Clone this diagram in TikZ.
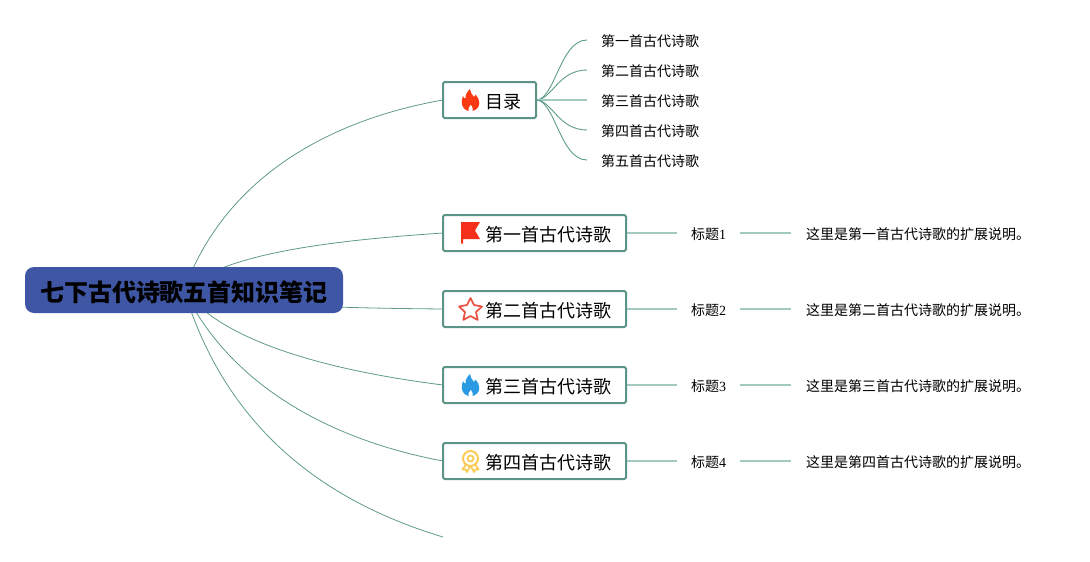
\documentclass[tikz,border=0pt]{standalone}
\usepackage{fontspec}
\setmainfont{Liberation Serif}
\newfontfamily\cjk{Noto Sans CJK SC}
\usetikzlibrary{backgrounds}
\definecolor{boxline}{HTML}{5B9486}
\definecolor{edgedark}{HTML}{5F9A8B}
\definecolor{edgelight}{HTML}{A3CABF}
\definecolor{rootfill}{HTML}{3F56A4}
\definecolor{flamered}{HTML}{FB3A12}
\definecolor{flagred}{HTML}{F5301A}
\definecolor{starred}{HTML}{E9503F}
\definecolor{flameblue}{HTML}{2A9BE3}
\definecolor{medalgold}{HTML}{FBCB55}
\tikzset{
  rootnode/.style={draw=none,fill=rootfill,rounded corners=9pt,minimum width=318pt,minimum height=46pt,inner sep=0pt,text height=23.5pt,text depth=0.5pt,font=\cjk\bfseries\fontsize{24}{26}\selectfont},
  topicnode/.style={draw=boxline,line width=2pt,outer sep=0pt,fill=white,rounded corners=1.5pt,minimum height=36pt,inner xsep=15pt,inner ysep=0pt,anchor=west,text height=18.4pt,text depth=1pt,font=\cjk\fontsize{18}{20}\selectfont},
  leafnode/.style={inner xsep=14pt,inner ysep=0pt,anchor=west,text height=13.6pt,text depth=1pt,font=\cjk\fontsize{14}{16}\selectfont},
  link/.style={draw=edgedark,line width=0.8pt},
  sublink/.style={draw=edgedark,line width=0.9pt},
  straightlink/.style={draw=edgelight,line width=1.4pt},
  flame/.pic={
    \fill[pic actions] (-2,11) .. controls (-8,9.5) and (-9.5,4) .. (-8.5,-0.5)
       .. controls (-8.2,-2) and (-7.8,-3) .. (-7.5,-4)
       .. controls (-7,-2.5) and (-6,-1.5) .. (-5,-1.5)
       .. controls (-5.5,-5) and (-3,-8.5) .. (-0.5,-11)
       .. controls (-0.5,-8) and (1.5,-5.5) .. (3.5,-3)
       .. controls (4.5,-3.5) and (4.8,-4.5) .. (5,-5.5)
       .. controls (7.5,-3) and (8.8,0) .. (8.8,3)
       .. controls (8.8,7) and (6,10) .. (2,11)
       .. controls (3,9) and (2.2,7) .. (0.3,4.5)
       .. controls (-1.2,6.5) and (-3,9) .. (-2,11) -- cycle;
  }
}
\begin{document}
\begin{tikzpicture}[x=1pt,y=-1pt]
\useasboundingbox (0,0) rectangle (1090,562);
% nodes
\node[rootnode] (root) at (184,290) {七下古代诗歌五首知识笔记};
\node[topicnode] (toc) at (443,100) {\hspace*{27pt}目录};
\node[topicnode] (p1) at (443,233) {\hspace*{27pt}第一首古代诗歌};
\node[topicnode] (p2) at (443,309) {\hspace*{27pt}第二首古代诗歌};
\node[topicnode] (p3) at (443,385) {\hspace*{27pt}第三首古代诗歌};
\node[topicnode] (p4) at (443,461) {\hspace*{27pt}第四首古代诗歌};
\coordinate (free) at (443,537);
\node[leafnode] (t1) at (587,40) {第一首古代诗歌};
\node[leafnode] (t2) at (587,70) {第二首古代诗歌};
\node[leafnode] (t3) at (587,100) {第三首古代诗歌};
\node[leafnode] (t4) at (587,130) {第四首古代诗歌};
\node[leafnode] (t5) at (587,160) {第五首古代诗歌};
\foreach \i/\y in {1/233,2/309,3/385,4/461}{
  \node[leafnode] (h\i) at (677,\y) {{\cjk 标题}\rmfamily\i};
}
\node[leafnode,inner xsep=15pt] (d1) at (791,233) {这里是第一首古代诗歌的扩展说明。};
\node[leafnode,inner xsep=15pt] (d2) at (791,309) {这里是第二首古代诗歌的扩展说明。};
\node[leafnode,inner xsep=15pt] (d3) at (791,385) {这里是第三首古代诗歌的扩展说明。};
\node[leafnode,inner xsep=15pt] (d4) at (791,461) {这里是第四首古代诗歌的扩展说明。};
% connectors
\begin{scope}[on background layer]
\draw[link] (root.center) .. controls (228,170) and (340,118) .. (toc.west);
\draw[link] (root.center) .. controls (225,252) and (340,240) .. (p1.west);
\draw[link] (root.center) .. controls (240,306) and (340,308) .. (p2.west);
\draw[link] (root.center) .. controls (225,345) and (340,372) .. (p3.west);
\draw[link] (root.center) .. controls (230,385) and (330,440) .. (p4.west);
\draw[link] (root.center) .. controls (225,425) and (320,500) .. (free);
\draw[sublink] (toc.east) .. controls (555,100) and (560,40) .. (t1.west);
\draw[sublink] (toc.east) .. controls (552,100) and (558,70) .. (t2.west);
\draw[straightlink] (toc.east) -- (t3.west);
\draw[sublink] (toc.east) .. controls (552,100) and (558,130) .. (t4.west);
\draw[sublink] (toc.east) .. controls (555,100) and (560,160) .. (t5.west);
\foreach \i in {1,2,3,4}{
  \draw[straightlink] (p\i.east) -- (h\i.west);
  \draw[straightlink] (h\i.east) -- (d\i.west);
}
\end{scope}
% icons
\pic[fill=flamered] at (470.5,100) {flame};
\fill[flagred] (461,222) -- (480,222) -- (475,230.5) -- (480,239) -- (463,239) -- (463,243.5) -- (461,243.5) -- cycle;
\draw[starred,line width=1.7pt,line join=round]
  (470.5,298) -- (474,305) -- (482,306.5) -- (476,312) -- (477.7,320) -- (470.5,316)
  -- (463.3,320) -- (465,312) -- (459,306.5) -- (467,305) -- cycle;
\pic[fill=flameblue] at (470.5,385) {flame};
\draw[medalgold,line width=2pt] (470.5,458.5) circle (7.5pt);
\draw[medalgold,line width=1.8pt] (470.5,458.5) circle (3pt);
\draw[medalgold,line width=1.8pt,line join=round] (465.5,465) -- (462.5,469.5) -- (465.5,469.5) -- (467,472) -- (470,466.5);
\draw[medalgold,line width=1.8pt,line join=round] (475.5,465) -- (478.5,469.5) -- (475.5,469.5) -- (474,472) -- (471,466.5);
\end{tikzpicture}
\end{document}
